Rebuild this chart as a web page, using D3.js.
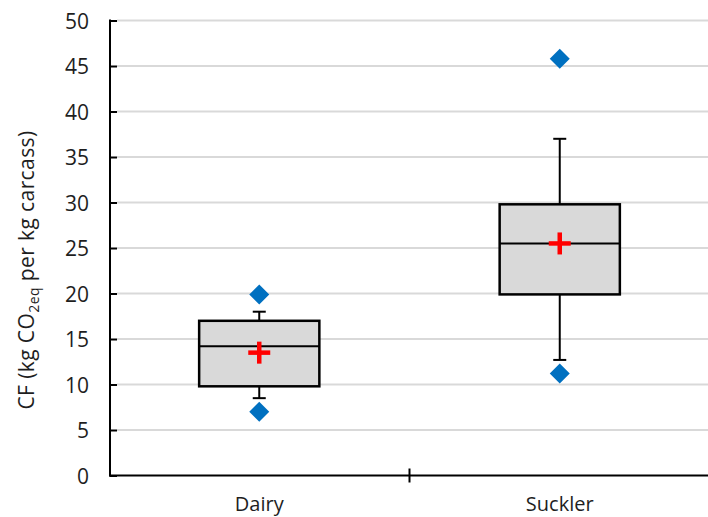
<!DOCTYPE html>
<html>
<head>
<meta charset="utf-8">
<script src="https://cdn.jsdelivr.net/npm/d3@7"></script>
<style>
  body { margin: 0; background: #fff; }
  svg text { font-family: "Open Sans", sans-serif; fill: #1e1e1e; }
</style>
</head>
<body>
<div id="chart"></div>
<script>
// values
const categories = ["Dairy", "Suckler"];
const whiskerLow = [8.5, 12.7];
const q1Values = [9.8, 19.9];
const medians = [14.2, 25.5];
const q3Values = [17.0, 29.8];
const whiskerHigh = [18.0, 37.0];
const means = [13.5, 25.5];
const outlierLow = [7.0, 11.2];
const outlierHigh = [19.9, 45.8];
const yTicks = [0, 5, 10, 15, 20, 25, 30, 35, 40, 45, 50];

const width = 708, height = 517;
const svg = d3.select("#chart").append("svg").attr("width", width).attr("height", height);

const x = d3.scaleBand().domain(categories).range([109, 710]);
const y = d3.scaleLinear().domain([0, 50]).range([475.5, 20.5]);

// gridlines
svg.append("g").selectAll("line").data(yTicks.filter(d => d > 0)).enter().append("line")
    .attr("x1", 117).attr("x2", width)
    .attr("y1", d => y(d)).attr("y2", d => y(d))
    .attr("stroke", "#d9d9d9").attr("stroke-width", 2);

// y axis
const yAxis = svg.append("g").attr("transform", "translate(110,0)")
    .call(d3.axisRight(y).tickValues(yTicks).tickSize(7).tickFormat(d3.format("d")));
yAxis.select(".domain").remove();
yAxis.selectAll(".tick line").attr("stroke", "#000").attr("stroke-width", 2);
yAxis.selectAll(".tick text").attr("x", -21).attr("text-anchor", "end")
    .attr("dy", "0.36em").style("font-size", "21px");
svg.append("line").attr("x1", 110).attr("x2", 110).attr("y1", y(50) - 1).attr("y2", y(0) + 1)
    .attr("stroke", "#000").attr("stroke-width", 2);

// x axis
svg.append("line").attr("x1", 109).attr("x2", width).attr("y1", y(0)).attr("y2", y(0))
    .attr("stroke", "#000").attr("stroke-width", 2);
svg.append("line")
    .attr("x1", x(categories[1])).attr("x2", x(categories[1]))
    .attr("y1", y(0) - 7).attr("y2", y(0) + 7)
    .attr("stroke", "#000").attr("stroke-width", 2);
svg.append("g").selectAll("text").data(categories).enter().append("text")
    .attr("x", d => x(d) + x.bandwidth() / 2)
    .attr("y", 511)
    .attr("text-anchor", "middle")
    .style("font-size", "20px")
    .text(d => d);

// y axis title
const title = svg.append("text")
    .attr("transform", "translate(34,270) rotate(-90)")
    .attr("text-anchor", "middle")
    .style("font-size", "21px")
    .style("letter-spacing", "0.4px");
title.append("tspan").text("CF (kg CO");
title.append("tspan").attr("dy", 5).style("font-size", "14px").text("2eq");
title.append("tspan").attr("dy", -5).text(" per kg carcass)");

// boxes
const boxW = x.bandwidth() * 0.4;
const capW = 13;
categories.forEach((c, i) => {
    const cx = x(c) + x.bandwidth() / 2;
    const g = svg.append("g");
    // whiskers
    g.append("line").attr("x1", cx).attr("x2", cx)
        .attr("y1", y(whiskerHigh[i])).attr("y2", y(q3Values[i]))
        .attr("stroke", "#000").attr("stroke-width", 2);
    g.append("line").attr("x1", cx).attr("x2", cx)
        .attr("y1", y(q1Values[i])).attr("y2", y(whiskerLow[i]))
        .attr("stroke", "#000").attr("stroke-width", 2);
    [whiskerHigh[i], whiskerLow[i]].forEach(v => {
        g.append("line").attr("x1", cx - capW / 2).attr("x2", cx + capW / 2)
            .attr("y1", y(v)).attr("y2", y(v))
            .attr("stroke", "#000").attr("stroke-width", 2);
    });
    // box
    g.append("rect")
        .attr("x", cx - boxW / 2).attr("width", boxW)
        .attr("y", y(q3Values[i])).attr("height", y(q1Values[i]) - y(q3Values[i]))
        .attr("fill", "#d9d9d9").attr("stroke", "#000").attr("stroke-width", 2.5);
    g.append("line").attr("x1", cx - boxW / 2).attr("x2", cx + boxW / 2)
        .attr("y1", y(medians[i])).attr("y2", y(medians[i]))
        .attr("stroke", "#000").attr("stroke-width", 2);
    // mean cross
    g.append("line").attr("x1", cx - 11).attr("x2", cx + 11)
        .attr("y1", y(means[i])).attr("y2", y(means[i]))
        .attr("stroke", "#ff0000").attr("stroke-width", 4.5);
    g.append("line").attr("x1", cx).attr("x2", cx)
        .attr("y1", y(means[i]) - 11).attr("y2", y(means[i]) + 11)
        .attr("stroke", "#ff0000").attr("stroke-width", 4.5);
    // outliers
    [outlierLow[i], outlierHigh[i]].forEach(v => {
        g.append("path")
            .attr("d", "M0,-10L10,0L0,10L-10,0Z")
            .attr("transform", `translate(${cx},${y(v)})`)
            .attr("fill", "#0070c0");
    });
});
</script>
</body>
</html>
